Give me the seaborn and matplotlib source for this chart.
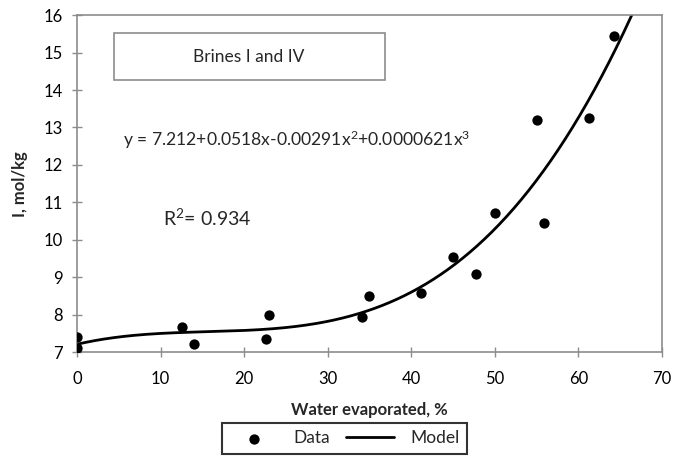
import numpy as np
import pandas as pd
import matplotlib
matplotlib.use("Agg")
import matplotlib.pyplot as plt
import seaborn as sns
from matplotlib.patches import Rectangle

# Data
water_evap = [0, 0, 12.6, 14.0, 22.6, 23.0, 34.1, 35.0, 41.2, 45.0, 47.7, 50.0, 55.0, 55.9, 61.3, 64.3]
ionic_strength = [7.41, 7.11, 7.67, 7.21, 7.36, 7.98, 7.95, 8.51, 8.58, 9.54, 9.09, 10.71, 13.20, 10.44, 13.24, 15.44]
# Model coefficients shown on chart (c0 + c1 x + c2 x^2 + c3 x^3)
model_coef = [7.212, 0.0518, -0.00291, 0.0000621]
x_ticks = [0, 10, 20, 30, 40, 50, 60, 70]
y_ticks = [7, 8, 9, 10, 11, 12, 13, 14, 15, 16]

sns.set_theme(style="white")
plt.rcParams['font.family'] = ['Lato', 'DejaVu Sans']
plt.rcParams['mathtext.fontset'] = 'custom'
plt.rcParams['mathtext.rm'] = 'Lato'
plt.rcParams['mathtext.it'] = 'Lato'
plt.rcParams['mathtext.default'] = 'rm'

fig = plt.figure(figsize=(6.88, 4.58), dpi=100)
ax = fig.add_axes([0.112, 0.231, 0.850, 0.736])

df = pd.DataFrame({"x": water_evap, "y": ionic_strength})
sns.scatterplot(data=df, x="x", y="y", ax=ax, color="black", s=55,
                edgecolor="black", linewidth=0, label="Data", zorder=3)

xm = np.linspace(0, 70, 400)
ym = sum(c * xm**i for i, c in enumerate(model_coef))
mdf = pd.DataFrame({"x": xm, "y": ym})
sns.lineplot(data=mdf, x="x", y="y", ax=ax, color="black", linewidth=2,
             label="Model", zorder=2)

ax.set_xlim(0, 70)
ax.set_ylim(7, 16)
ax.set_xticks(x_ticks)
ax.set_yticks(y_ticks)
ax.tick_params(axis="both", which="both", direction="inout", length=7,
               width=1, color="#8c8c8c", labelsize=12, labelcolor="black",
               left=True, bottom=True)
ax.tick_params(axis="x", pad=10)
ax.tick_params(axis="y", pad=7)
for sp in ax.spines.values():
    sp.set_color("#8c8c8c")
    sp.set_linewidth(1.2)
ax.grid(False)

ax.set_xlabel("Water evaporated, %", fontsize=12, fontweight="bold", labelpad=11)
ax.set_ylabel("I, mol/kg", fontsize=12, fontweight="bold", labelpad=11)

# Title box
rect = Rectangle((0.063, 0.807), 0.463, 0.140, transform=ax.transAxes,
                 fill=False, edgecolor="#8c8c8c", linewidth=1.2)
ax.add_patch(rect)
ax.text(0.294, 0.877, "Brines I and IV", transform=ax.transAxes,
        ha="center", va="center", fontsize=12.5)

ax.text(0.078, 0.630, r"y = 7.212+0.0518x-0.00291x$^{2}$+0.0000621x$^{3}$",
        transform=ax.transAxes, ha="left", va="center", fontsize=12.6)
ax.text(0.147, 0.398, r"R$^{2}$= 0.934", transform=ax.transAxes,
        ha="left", va="center", fontsize=14)

leg = ax.legend(loc="center", bbox_to_anchor=(0.457, -0.256), ncol=2,
                frameon=True, fancybox=False, fontsize=12.5,
                handlelength=2.8, columnspacing=0.9, borderpad=0.42,
                handletextpad=0.9, borderaxespad=0)
leg.get_frame().set_edgecolor("black")
leg.get_frame().set_linewidth(1.5)

fig.savefig("out.png", dpi=100)
